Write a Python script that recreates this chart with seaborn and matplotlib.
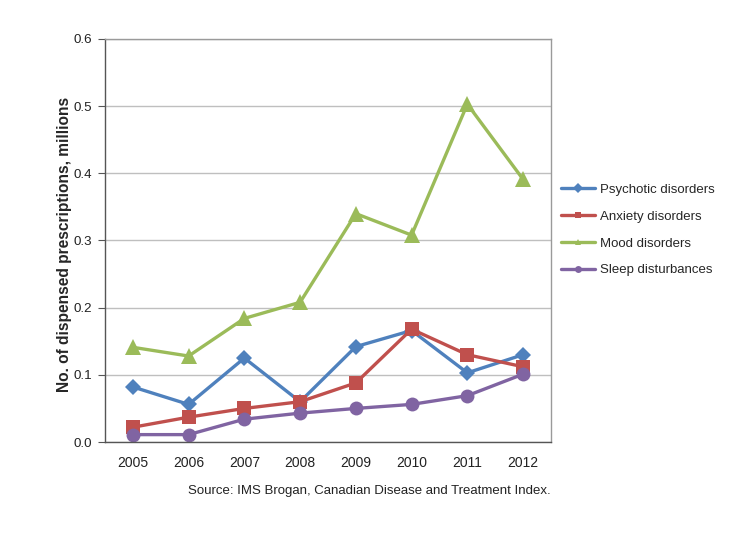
import matplotlib
matplotlib.use('Agg')
import matplotlib.pyplot as plt
from matplotlib.lines import Line2D
import seaborn as sns
import pandas as pd
import numpy as np

years = ["2005", "2006", "2007", "2008", "2009", "2010", "2011", "2012"]
psychotic = [0.082, 0.056, 0.125, 0.060, 0.142, 0.166, 0.103, 0.130]
anxiety = [0.022, 0.037, 0.050, 0.060, 0.088, 0.168, 0.130, 0.112]
mood = [0.141, 0.128, 0.184, 0.208, 0.340, 0.308, 0.503, 0.391]
sleep = [0.011, 0.011, 0.034, 0.043, 0.050, 0.056, 0.069, 0.101]

series_names = ["Psychotic disorders", "Anxiety disorders", "Mood disorders", "Sleep disturbances"]
series_vals = [psychotic, anxiety, mood, sleep]
colors = ["#4F81BD", "#C0504D", "#9BBB59", "#8064A2"]
markers = ["D", "s", "^", "o"]
msizes = [8, 10, 11, 10]

rows = []
for name, vals in zip(series_names, series_vals):
    for i, v in enumerate(vals):
        rows.append({"idx": i, "value": v, "series": name})
df = pd.DataFrame(rows)

sns.set_style("white")
plt.rcParams['font.family'] = ['Liberation Sans', 'DejaVu Sans']

fig = plt.figure(figsize=(7.53, 5.53), dpi=100)
ax = fig.add_axes([0.1394, 0.2007, 0.5923, 0.7288])

for name, col, mk, ms in zip(series_names, colors, markers, msizes):
    sub = df[df["series"] == name]
    sns.lineplot(data=sub, x="idx", y="value", ax=ax, color=col, marker=mk,
                 markersize=ms, markeredgewidth=0, linewidth=2.4, legend=False)

ax.set_xlim(-0.5, 7.5)
ax.set_ylim(0, 0.6)
ax.set_yticks(np.arange(0, 0.61, 0.1))
ax.set_yticklabels([f"{v:.1f}" for v in np.arange(0, 0.61, 0.1)], fontsize=9.6, color="#222222")
ax.set_xticks(range(len(years)))
ax.set_xticklabels(years, fontsize=10, color="#222222")
ax.set_xticks(np.arange(-0.5, 7.6, 1), minor=True)
ax.tick_params(axis="x", which="major", length=0, pad=10)
ax.tick_params(axis="x", which="minor", length=5, color="#555555", width=0.8, direction="out")
ax.tick_params(axis="y", length=5, color="#555555", width=0.8, direction="out", left=True, pad=4)
ax.yaxis.grid(True, color="#BFBFBF", linewidth=1.0)
ax.set_axisbelow(True)
for s in ["left", "bottom"]:
    ax.spines[s].set_color("#555555")
    ax.spines[s].set_linewidth(1.0)
for s in ["top", "right"]:
    ax.spines[s].set_color("#9A9A9A")
    ax.spines[s].set_linewidth(1.0)

ax.set_xlabel("")
ax.set_ylabel("No. of dispensed prescriptions, millions", fontsize=11.2,
              fontweight="bold")
ax.yaxis.set_label_coords(-0.075, 0.489)

handles = [Line2D([], [], color=c, marker=m, markersize=5, markeredgewidth=0, linewidth=2.4)
           for c, m in zip(colors, markers)]
leg = ax.legend(handles, series_names, loc="upper left", bbox_to_anchor=(0.995, 0.67),
                frameon=False, fontsize=9.5, handlelength=2.6, labelspacing=1.1,
                handletextpad=0.4)

fig.text(0.731, 0.112, "Source: IMS Brogan, Canadian Disease and Treatment Index.",
         ha="right", va="center", fontsize=9.5, color="#222222")

fig.savefig("out.png", dpi=100)
